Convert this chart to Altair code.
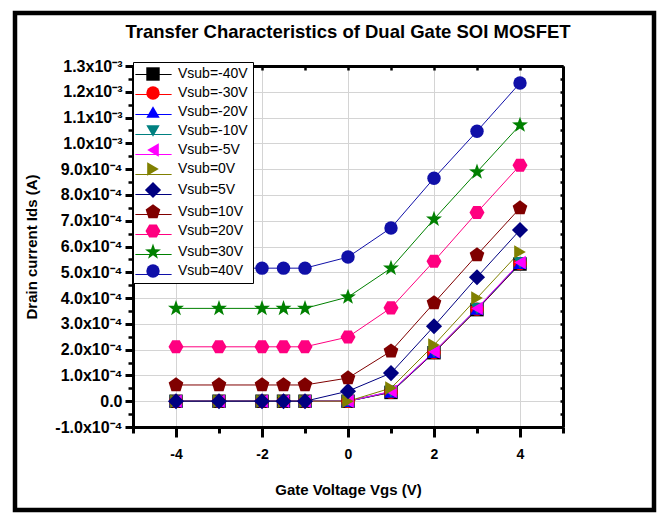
import altair as alt
import pandas as pd

# ---------------- data ----------------
vgs = [-4, -3, -2, -1.5, -1, 0, 1, 2, 3, 4]

series_names = ["Vsub=-40V", "Vsub=-30V", "Vsub=-20V", "Vsub=-10V", "Vsub=-5V",
                "Vsub=0V", "Vsub=5V", "Vsub=10V", "Vsub=20V", "Vsub=30V", "Vsub=40V"]

ids_m40 = [0, 0, 0, 0, 0, 0, 0.34e-4, 1.88e-4, 3.55e-4, 5.32e-4]
ids_m30 = [0, 0, 0, 0, 0, 0, 0.35e-4, 1.89e-4, 3.57e-4, 5.34e-4]
ids_m20 = [0, 0, 0, 0, 0, 0, 0.36e-4, 1.90e-4, 3.58e-4, 5.35e-4]
ids_m10 = [0, 0, 0, 0, 0, 0, 0.37e-4, 1.91e-4, 3.59e-4, 5.37e-4]
ids_m5 = [0, 0, 0, 0, 0, 0, 0.38e-4, 1.92e-4, 3.60e-4, 5.38e-4]
ids_0 = [0, 0, 0, 0, 0, 0, 0.51e-4, 2.18e-4, 4.00e-4, 5.79e-4]
ids_5 = [0, 0, 0, 0, 0, 0.39e-4, 1.09e-4, 2.91e-4, 4.81e-4, 6.64e-4]
ids_10 = [0.63e-4, 0.63e-4, 0.63e-4, 0.63e-4, 0.63e-4, 0.90e-4, 1.94e-4, 3.81e-4, 5.67e-4, 7.49e-4]
ids_20 = [2.11e-4, 2.11e-4, 2.11e-4, 2.11e-4, 2.11e-4, 2.49e-4, 3.62e-4, 5.43e-4, 7.32e-4, 9.15e-4]
ids_30 = [3.60e-4, 3.60e-4, 3.60e-4, 3.60e-4, 3.60e-4, 4.04e-4, 5.16e-4, 7.06e-4, 8.89e-4, 10.71e-4]
ids_40 = [5.16e-4, 5.16e-4, 5.16e-4, 5.16e-4, 5.16e-4, 5.59e-4, 6.72e-4, 8.65e-4, 10.47e-4, 12.34e-4]

all_ids = [ids_m40, ids_m30, ids_m20, ids_m10, ids_m5, ids_0, ids_5, ids_10, ids_20, ids_30, ids_40]

colors = ["#000000", "#ff0000", "#0000ff", "#008080", "#ff00ff", "#808000",
          "#000080", "#800000", "#ff0080", "#008000", "#1010a8"]

pentagon = "M0,-1.15L1.094,-0.355L0.676,0.93L-0.676,0.93L-1.094,-0.355Z"
hexagon = "M1.12,0L0.56,0.97L-0.56,0.97L-1.12,0L-0.56,-0.97L0.56,-0.97Z"
star = ("M0,-1.25L0.294,-0.405L1.189,-0.386L0.476,0.155L0.735,1.011L0,0.5"
        "L-0.735,1.011L-0.476,0.155L-1.189,-0.386L-0.294,-0.405Z")
diamond = "M0,-1.2L1.2,0L0,1.2L-1.2,0Z"
shapes = ["square", "circle", "triangle-up", "triangle-down", "triangle-left",
          "triangle-right", diamond, pentagon, hexagon, star, "circle"]

x_major = [-4, -2, 0, 2, 4]
x_minor = [-5, -3, -1, 1, 3, 5]
y_major = [-1e-4, 0, 1e-4, 2e-4, 3e-4, 4e-4, 5e-4, 6e-4, 7e-4, 8e-4, 9e-4,
           10e-4, 11e-4, 12e-4, 13e-4]
y_minor = [-0.5e-4, 0.5e-4, 1.5e-4, 2.5e-4, 3.5e-4, 4.5e-4, 5.5e-4, 6.5e-4,
           7.5e-4, 8.5e-4, 9.5e-4, 10.5e-4, 11.5e-4, 12.5e-4]

rows = []
for name, vals in zip(series_names, all_ids):
    for v, i in zip(vgs, vals):
        rows.append({"Vgs": v, "Ids": i, "Series": name})
df = pd.DataFrame(rows)

W, H = 430, 361
FONT = "Liberation Sans"

xscale = alt.Scale(domain=[-5, 5], nice=False, zero=False)
yscale = alt.Scale(domain=[-1e-4, 1.3e-3], nice=False, zero=False)

y_label_expr = ("datum.value == 0 ? '0.0' : ((datum.value < 0 ? '-' : '') + "
                "(abs(datum.value) > 0.00095 ? format(abs(datum.value) * 1000, '.1f') + 'x10\u207b\u00b3'"
                " : format(abs(datum.value) * 10000, '.1f') + 'x10\u207b\u2074'))")

x_main_axis = alt.Axis(values=x_major, labelExpr="'' + datum.value", orient="bottom",
                       tickSize=10, tickWidth=3, tickColor="black",
                       domainColor="black", domainWidth=3,
                       labelFont=FONT, labelFontSize=14, labelFontWeight="bold",
                       labelColor="black", labelPadding=10,
                       title="Gate Voltage Vgs (V)", titleFont=FONT, titleFontSize=15,
                       titleFontWeight="bold", titleColor="black", titlePadding=21,
                       grid=True, gridColor="#d4d4d4", gridWidth=1)
y_main_axis = alt.Axis(values=y_major, labelExpr=y_label_expr, orient="left",
                       tickSize=8, tickWidth=3, tickColor="black",
                       domainColor="black", domainWidth=3,
                       labelFont=FONT, labelFontSize=16, labelFontWeight="bold",
                       labelColor="black", labelPadding=3,
                       title="Drain current Ids (A)", titleFont=FONT, titleFontSize=15,
                       titleFontWeight="bold", titleColor="black", titlePadding=15,
                       grid=True, gridColor="#d4d4d4", gridWidth=1)

x_minor_axis = alt.Axis(values=x_minor, orient="bottom", tickSize=6, tickWidth=3,
                        tickColor="black", labels=False, domain=False, grid=False, title=None)
y_minor_axis = alt.Axis(values=y_minor, orient="left", tickSize=5, tickWidth=2.5,
                        tickColor="black", labels=False, domain=False, grid=False, title=None)

x_top_axis = alt.Axis(values=x_major + x_minor, orient="bottom", offset=-H, tickSize=4,
                      tickWidth=2.5, tickColor="black", labels=False, domain=True,
                      domainColor="black", domainWidth=3, grid=False, title=None)
y_right_axis = alt.Axis(values=y_major + y_minor, orient="left", offset=-W, tickSize=3,
                        tickWidth=2.5, tickColor="black", labels=False, domain=True,
                        domainColor="black", domainWidth=3, grid=False, title=None)

leg_common = dict(title=None, symbolSize=180, labelFont=FONT, labelFontSize=14,
                  padding=5, rowPadding=5, symbolOffset=8, labelOffset=18,
                  orient="none", legendX=0, legendY=-4)

# line samples drawn on top of the symbol legend (same colours, so symbols look on top)
leg_lines = alt.Legend(symbolType="M-2.7,0H2.7", symbolStrokeWidth=1, labelExpr="''",
                       zindex=2, **leg_common)
leg_points = alt.Legend(symbolStrokeWidth=0, labelColor="black", fillColor="white",
                        strokeColor="black", zindex=1, **leg_common)

base = alt.Chart(df)

lines = base.mark_line(strokeWidth=1).encode(
    x=alt.X("Vgs:Q", scale=xscale, axis=x_main_axis),
    y=alt.Y("Ids:Q", scale=yscale, axis=y_main_axis),
    color=alt.Color("Series:N", sort=series_names, scale=alt.Scale(range=colors),
                    legend=leg_lines),
)

points = base.mark_point(filled=True, size=180, opacity=1, strokeWidth=0).encode(
    x=alt.X("Vgs:Q", scale=xscale, axis=None),
    y=alt.Y("Ids:Q", scale=yscale, axis=None),
    fill=alt.Fill("Series:N", scale=alt.Scale(domain=series_names, range=colors),
                  legend=leg_points),
    shape=alt.Shape("Series:N", scale=alt.Scale(domain=series_names, range=shapes),
                    legend=leg_points),
)

minor = base.mark_point(opacity=0, size=0).encode(
    x=alt.X("Vgs:Q", scale=xscale, axis=x_minor_axis),
    y=alt.Y("Ids:Q", scale=yscale, axis=y_minor_axis),
)

mirror = base.mark_point(opacity=0, size=0).encode(
    x=alt.X("Vgs:Q", scale=xscale, axis=x_top_axis),
    y=alt.Y("Ids:Q", scale=yscale, axis=y_right_axis),
)

frame = alt.Chart(pd.DataFrame({"f": [0]})).mark_rect(
    filled=False, stroke="black", strokeWidth=4.5
).encode(x=alt.value(-118), x2=alt.value(521), y=alt.value(-53), y2=alt.value(444))

chart = alt.layer(minor, mirror, lines, points, frame).resolve_axis(
    x="independent", y="independent"
).properties(
    width=W, height=H,
    autosize=alt.AutoSizeParams(type="none"),
    padding={"left": 133, "top": 66, "right": 102, "bottom": 86},
    title=alt.TitleParams("Transfer Characteristics of Dual Gate SOI MOSFET",
                          font=FONT, fontSize=18.5, fontWeight="bold", color="black",
                          anchor="middle", offset=-31),
).configure_view(stroke="black", strokeWidth=2.5).configure(background="white")

chart.save("out.html", embed_options={"renderer": "svg", "actions": False})
